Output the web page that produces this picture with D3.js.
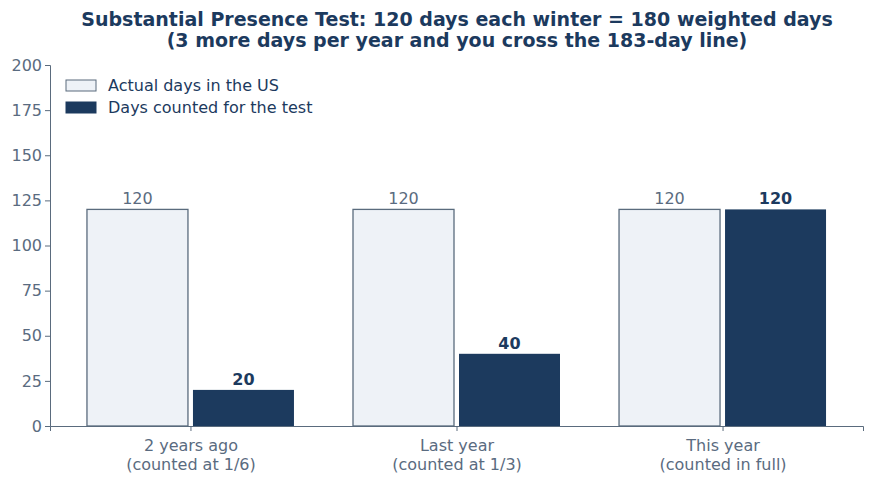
<!DOCTYPE html>
<html><head><meta charset="utf-8">
<script src="https://cdn.jsdelivr.net/npm/d3@7"></script>
<style>body{margin:0;background:#fff;font-family:"DejaVu Sans",sans-serif}</style>
</head><body><svg width="875" height="481"></svg>
<script>
var categories = ["2 years ago\n(counted at 1/6)", "Last year\n(counted at 1/3)", "This year\n(counted in full)"];
var actualDays = [120, 120, 120];
var countedDays = [20, 40, 120];
var yTicks = [0, 25, 50, 75, 100, 125, 150, 175, 200];

var dark = "#1c3a5e", light = "#eef2f7", edge = "#5a6b7d", grey = "#5a6b80";
var svg = d3.select("svg");
var mLeft = 50, mRight = 863, mTop = 65, mBottom = 426;

var x = d3.scalePoint().domain(d3.range(categories.length)).range([mLeft, mRight]).padding(0.528);
var y = d3.scaleLinear().domain([0, 200]).range([mBottom, mTop]);
var bw = 101, gap = 5;

// axes
var ya = svg.append("g").attr("transform", "translate(" + mLeft + ",0)")
  .call(d3.axisLeft(y).tickValues(yTicks).tickSize(5));
ya.selectAll("text").attr("fill", grey).style("font-size", "16px").style("font-family", "DejaVu Sans");
ya.selectAll("line,path").attr("stroke", edge);

var xa = svg.append("g").attr("transform", "translate(0," + mBottom + ")")
  .call(d3.axisBottom(x).tickSize(5).tickFormat(""));
xa.selectAll("line,path").attr("stroke", edge);
xa.selectAll(".tick").each(function(d) {
  var t = d3.select(this).append("text").attr("fill", grey).style("font-size", "16px")
    .style("font-family", "DejaVu Sans").attr("text-anchor", "middle");
  categories[d].split("\n").forEach(function(s, k) {
    t.append("tspan").attr("x", 0).attr("y", 25 + k * 19).text(s);
  });
});

// bars
actualDays.forEach(function(v, i) {
  svg.append("rect").attr("x", x(i) - gap / 2 - bw).attr("y", y(v)).attr("width", bw)
    .attr("height", y(0) - y(v)).attr("fill", light).attr("stroke", edge).attr("stroke-width", 1.3);
  svg.append("text").attr("x", x(i) - gap / 2 - bw / 2).attr("y", y(v) - 5).attr("text-anchor", "middle")
    .attr("fill", grey).style("font-size", "16px").text(v);
});
countedDays.forEach(function(v, i) {
  svg.append("rect").attr("x", x(i) + gap / 2).attr("y", y(v)).attr("width", bw)
    .attr("height", y(0) - y(v)).attr("fill", dark);
  svg.append("text").attr("x", x(i) + gap / 2 + bw / 2).attr("y", y(v) - 5).attr("text-anchor", "middle")
    .attr("fill", dark).style("font-size", "16px").style("font-weight", "bold").text(v);
});

// title
svg.append("text").attr("x", 457).attr("y", 26).attr("text-anchor", "middle").attr("fill", dark)
  .style("font-size", "19px").style("font-weight", "bold")
  .text("Substantial Presence Test: 120 days each winter = 180 weighted days");
svg.append("text").attr("x", 457).attr("y", 47).attr("text-anchor", "middle").attr("fill", dark)
  .style("font-size", "19px").style("font-weight", "bold")
  .text("(3 more days per year and you cross the 183-day line)");

// legend
var lg = [["Actual days in the US", light, edge], ["Days counted for the test", dark, dark]];
lg.forEach(function(l, k) {
  svg.append("rect").attr("x", 66).attr("y", 80 + k * 22).attr("width", 30).attr("height", 11)
    .attr("fill", l[1]).attr("stroke", l[2]);
  svg.append("text").attr("x", 108).attr("y", 91 + k * 22).attr("fill", dark)
    .style("font-size", "16px").text(l[0]);
});
</script></body></html>
